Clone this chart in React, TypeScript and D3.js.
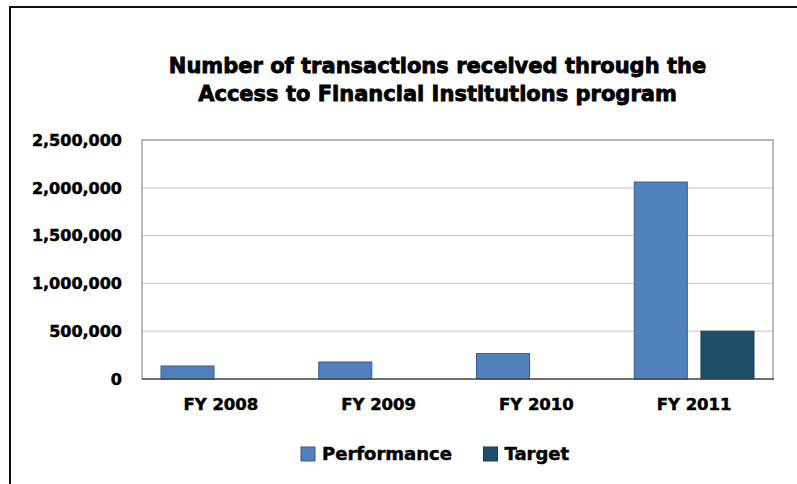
import React from "react";
import * as d3 from "d3";

// data
const years = ["FY 2008", "FY 2009", "FY 2010", "FY 2011"];
const seriesNames = ["Performance", "Target"];
const performance = [136000, 178000, 266000, 2060000];
const target = [null, null, null, 500000];
const yTicks = [0, 500000, 1000000, 1500000, 2000000, 2500000];
const titleLines = [
  "Number of transactions received through the",
  "Access to Financial Institutions program",
];

const colors = { Performance: "#4F81BD", Target: "#1D4F6A" };
const strokes = { Performance: "#2F5F8F", Target: "#163F55" };

const W = 797;
const H = 484;
const plot = { left: 142, top: 140, right: 773, bottom: 379 };
const font = "'DejaVu Sans', Verdana, sans-serif";

const App = () => {
  const x0 = d3.scaleBand().domain(years).range([plot.left, plot.right]).padding(0);
  const x1 = d3
    .scaleBand()
    .domain(seriesNames)
    .range([19, x0.bandwidth() - 19])
    .paddingInner(0.205);
  const y = d3.scaleLinear().domain([0, 2500000]).range([plot.bottom, plot.top]);
  const fmt = d3.format(",");

  const rows = years.map((yr, i) => ({
    yr,
    values: [
      { key: "Performance", v: performance[i] },
      { key: "Target", v: target[i] },
    ],
  }));

  const heavy = { fontFamily: font, fontWeight: 700, fill: "#000", stroke: "#000" };

  return (
    <svg
      width={W}
      height={H}
      style={{ position: "absolute", left: 0, top: 0, background: "#fff" }}
    >
      {/* outer frame, cut off on the right and bottom */}
      <rect x={10} y={7} width={820} height={520} fill="#fff" stroke="#111" strokeWidth={2} />

      {/* title */}
      {titleLines.map((t, i) => (
        <text
          key={t}
          x={437.5}
          y={73 + i * 28}
          textAnchor="middle"
          fontSize={21}
          strokeWidth={0.8}
          style={heavy}
        >
          {t}
        </text>
      ))}

      {/* gridlines */}
      {yTicks.slice(1).map((t) => (
        <line key={t} x1={plot.left} x2={plot.right} y1={y(t)} y2={y(t)} stroke="#D0D0D0" strokeWidth={1.3} />
      ))}
      {/* plot border */}
      <path
        d={`M${plot.left},${plot.bottom}V${plot.top}H${plot.right}V${plot.bottom}`}
        fill="none"
        stroke="#A6A6A6"
        strokeWidth={1.5}
      />

      {/* bars */}
      {rows.map((r) => (
        <g key={r.yr} transform={`translate(${x0(r.yr)},0)`}>
          {r.values
            .filter((d) => d.v != null)
            .map((d) => (
              <rect
                key={d.key}
                x={x1(d.key)}
                y={y(d.v as number)}
                width={x1.bandwidth()}
                height={plot.bottom - y(d.v as number)}
                fill={colors[d.key]}
                stroke={strokes[d.key]}
                strokeWidth={1}
              />
            ))}
        </g>
      ))}

      {/* baseline */}
      <line x1={plot.left} x2={plot.right + 1} y1={plot.bottom} y2={plot.bottom} stroke="#404040" strokeWidth={1.5} />

      {/* y tick labels */}
      {yTicks.map((t) => (
        <text
          key={t}
          x={122}
          y={y(t)}
          dy="0.36em"
          textAnchor="end"
          fontSize={16}
          strokeWidth={0.5}
          style={heavy}
        >
          {fmt(t)}
        </text>
      ))}

      {/* x labels */}
      {years.map((yr) => (
        <text
          key={yr}
          x={(x0(yr) as number) + x0.bandwidth() / 2}
          y={410}
          textAnchor="middle"
          fontSize={16.5}
          strokeWidth={0.5}
          style={heavy}
        >
          {yr}
        </text>
      ))}

      {/* legend */}
      {seriesNames.map((s, i) => {
        const lx = i === 0 ? 301 : 483.5;
        return (
          <g key={s}>
            <rect x={lx} y={447} width={14} height={14} fill={colors[s]} stroke={strokes[s]} strokeWidth={1} />
            <text x={lx + 21} y={460} fontSize={18} strokeWidth={0.5} style={heavy}>
              {s}
            </text>
          </g>
        );
      })}
    </svg>
  );
};

export default App;
